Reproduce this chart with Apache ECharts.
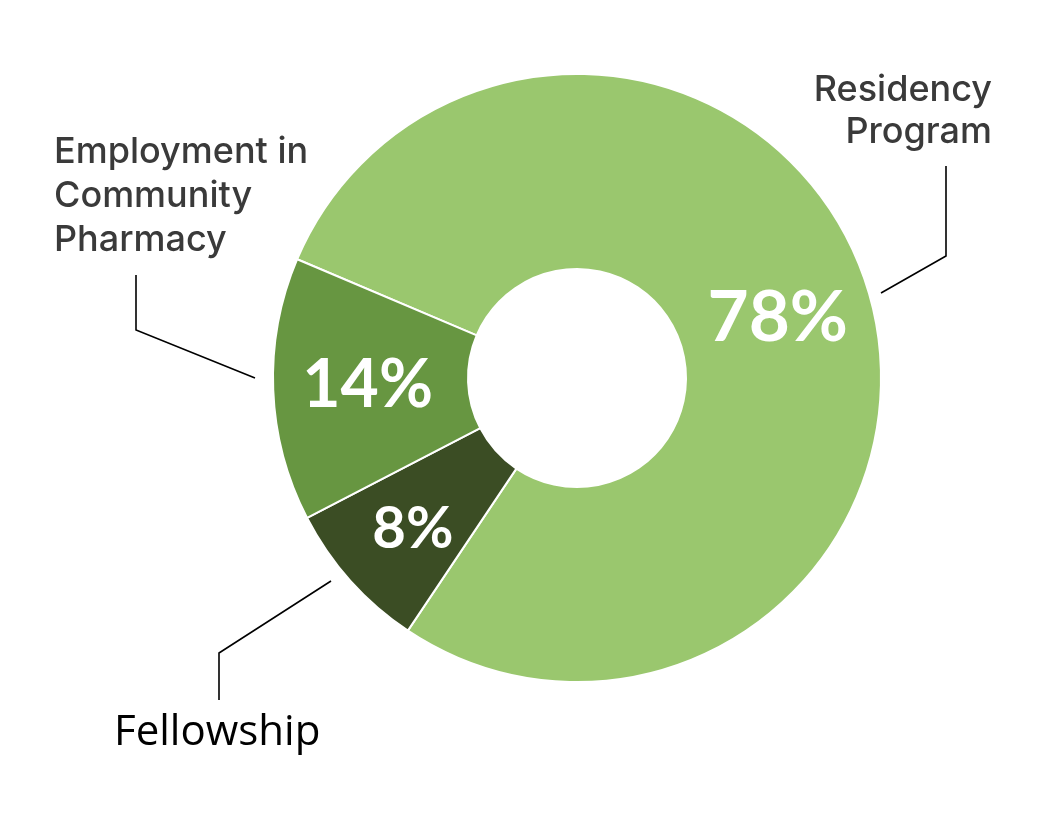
<!DOCTYPE html>
<html>
<head>
<meta charset="utf-8">
<script src="https://cdn.jsdelivr.net/npm/echarts@6/dist/echarts.min.js"></script>
<style>
html,body{margin:0;padding:0;background:#fff;}
#chart{width:1055px;height:840px;}
</style>
</head>
<body>
<div id="chart"></div>
<script>
// Data (order is clockwise, starting from upper-left boundary)
const categories = ['Residency Program', 'Fellowship', 'Employment in Community Pharmacy'];
const values = [78, 8, 14];
const colors = ['#9AC76E', '#3B4D24', '#679641'];
const outerLabels = ['Residency\nProgram', 'Fellowship', 'Employment in\nCommunity\nPharmacy'];
const innerFontSizes = [71, 58, 66];
const innerOffsets = [[0, 0], [-8, 12], [0, 0]];

// Layout of outside labels and leader lines (positions only)
const outerLayout = [
  { x: 992, y: 69, align: 'right', verticalAlign: 'top', lineHeight: 42,
    line: [[881, 293], [946, 256], [946, 166]] },
  { x: 114, y: 733, align: 'left', verticalAlign: 'middle', lineHeight: 46,
    line: [[331, 581], [219, 653], [219, 700]] },
  { x: 54, y: 130, align: 'left', verticalAlign: 'top', lineHeight: 44,
    line: [[255, 378], [136, 330], [136, 275]] }
];

const chart = echarts.init(document.getElementById('chart'), null, { renderer: 'canvas' });

const center = [577, 378];
const radius = [109, 304];

const innerData = categories.map((c, i) => ({
  name: c, value: values[i],
  itemStyle: { color: colors[i] },
  label: { fontSize: innerFontSizes[i], offset: innerOffsets[i] }
}));

const outerData = categories.map((c, i) => ({
  name: c, value: values[i],
  label: i === 1 ? {
    fontFamily: 'Open Sans', fontSize: 42, fontWeight: 'normal', color: '#000', lineHeight: 46
  } : { lineHeight: outerLayout[i].lineHeight }
}));

chart.setOption({
  animation: false,
  backgroundColor: '#ffffff',
  series: [
    {
      type: 'pie',
      center: center,
      radius: radius,
      startAngle: 157,
      clockwise: true,
      silent: true,
      itemStyle: { borderColor: '#ffffff', borderWidth: 2 },
      label: {
        show: true,
        position: 'inside',
        formatter: p => values[p.dataIndex] + '%',
        color: '#ffffff',
        fontFamily: 'Lato',
        fontWeight: 'bold'
      },
      labelLine: { show: false },
      emphasis: { disabled: true },
      data: innerData
    },
    {
      type: 'pie',
      center: center,
      radius: radius,
      startAngle: 157,
      clockwise: true,
      silent: true,
      z: 3,
      itemStyle: { color: 'rgba(0,0,0,0)', borderWidth: 0 },
      label: {
        show: true,
        position: 'outside',
        formatter: p => outerLabels[p.dataIndex],
        color: '#3a3a3a',
        fontFamily: 'Inter',
        fontWeight: 500,
        fontSize: 36,
        overflow: 'none'
      },
      labelLine: {
        show: true,
        lineStyle: { color: '#000000', width: 1.6 }
      },
      labelLayout: function (params) {
        const L = outerLayout[params.dataIndex];
        return {
          x: L.x, y: L.y, align: L.align, verticalAlign: L.verticalAlign,
          labelLinePoints: L.line
        };
      },
      emphasis: { disabled: true },
      data: outerData
    }
  ]
});
</script>
</body>
</html>
